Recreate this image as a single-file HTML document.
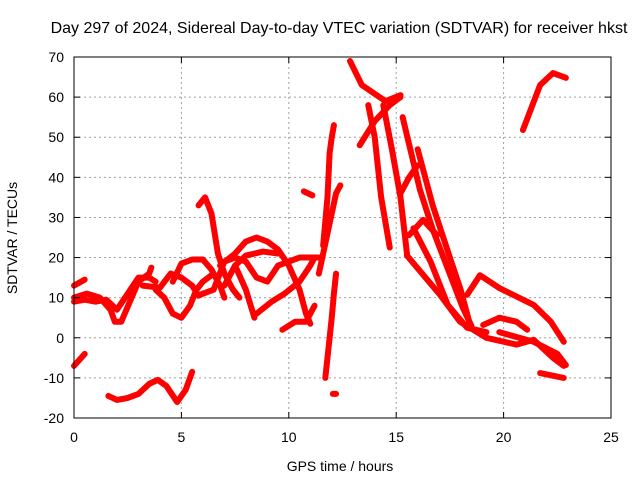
<!DOCTYPE html>
<html><head><meta charset="utf-8"><style>
body{margin:0;background:#fff}
svg text{font-family:"Liberation Sans",sans-serif;font-size:14px;fill:#000}
</style></head><body>
<svg id="chart" width="640" height="480">
<text x="339" y="33" text-anchor="middle" style="font-size:16px">Day 297 of 2024, Sidereal Day-to-day VTEC variation (SDTVAR) for receiver hkst</text>
<text x="340" y="471" text-anchor="middle">GPS time / hours</text>
<text transform="translate(17,238) rotate(-90)" text-anchor="middle">SDTVAR / TECUs</text>
<g id="grid"></g><g id="series"></g><g id="axes"></g>
</svg>
<script>
const xTicks=[0,5,10,15,20,25];
const yTicks=[-20,-10,0,10,20,30,40,50,60,70];
const s1=[[0,-7],[0.5,-4]];
const s2=[[0,13],[0.5,14.5]];
const s3=[[0,10],[0.6,11],[1.2,10],[1.7,7],[1.9,4],[2.2,4],[2.6,9],[3,14],[3.5,16],[3.6,17.5]];
const s4=[[0,9],[0.5,9.5],[1,9],[1.5,9.5],[2,7],[2.5,11],[3,15],[3.5,15],[3.8,14]];
const s5=[[1.6,-14.5],[2,-15.5],[2.5,-15],[3,-14],[3.5,-11.5],[3.9,-10.5],[4.3,-12],[4.8,-16],[5.2,-13],[5.5,-8.5]];
const s6=[[3.2,13],[4,12.5],[4.5,16],[5,15],[5.5,13],[5.8,10.5],[6,11]];
const s7=[[3.8,12],[4.2,10],[4.6,6],[5,5],[5.4,8],[5.7,12],[6,14],[6.5,16]];
const s8=[[4.6,14],[5,18.5],[5.5,19.5],[6,19.5],[6.4,17],[6.8,13],[7,10]];
const s9=[[5.8,33],[6.1,35],[6.4,31],[6.7,21],[7,16],[7.4,12],[7.7,10]];
const s10=[[6,11],[6.5,12],[7,19],[7.5,20],[8,19],[8.5,15],[9,14],[9.5,18],[10,19],[10.5,20],[11,20],[11.4,20]];
const s11=[[6.8,18],[7.5,21],[8,24],[8.5,25],[9,24],[9.5,22],[10,18],[10.5,12],[10.8,6],[11,3.5]];
const s12=[[7.5,18],[8,12],[8.4,5]];
const s13=[[8.5,6],[9.2,9],[9.8,11],[10.5,14],[11,18],[11.2,20]];
const s14=[[9.7,2],[10.3,4],[10.8,4],[11.2,8]];
const s15=[[7,13],[7.5,18],[8,20.5],[8.8,21.5],[9.5,21]];
const s16=[[11.4,16],[11.8,26],[12.2,36],[12.4,38]];
const s17=[[11.6,23],[11.8,35],[11.9,46],[12.0,50],[12.1,53]];
const s18=[[11.7,-10],[12,5],[12.1,11],[12.2,16]];
const s19=[[12.05,-14],[12.2,-14]];
const s20=[[10.7,36.5],[11.1,35.5]];
const s21=[[12.85,69],[13.4,63],[14.5,59],[15.2,60.5]];
const s22=[[13.7,58],[14.0,50],[14.3,35],[14.7,22.5]];
const s23=[[13.3,48],[14,54],[14.7,58],[15.2,60]];
const s24=[[14.4,58],[14.8,47],[15.2,35],[15.5,21]];
const s25=[[15.3,55],[16.1,37],[16.7,27],[18.1,7.5],[18.5,3]];
const s26=[[16,47],[16.7,33],[17.5,20],[18,12],[18.4,4]];
const s27=[[15.2,36],[15.6,40],[16,43]];
const s28=[[15.6,25.6],[16.25,29.4],[16.9,25.6]];
const s29=[[15.5,20.5],[17.04,10.7],[17.97,4],[19.2,0],[20.6,-1.7],[21.4,-0.5],[22.3,-5],[22.8,-7]];
const s30=[[15.8,27.3],[16.6,19],[17.4,8.2],[18.3,2.5],[19.2,1.4]];
const s31=[[18.3,10.7],[18.9,15.6],[19.8,12.4],[21.4,8.2],[22.2,4],[22.8,-1]];
const s32=[[19.05,3.2],[19.8,5],[20.6,4],[21.1,2]];
const s33=[[19.8,1.4],[21.4,-1],[22.5,-4],[22.9,-6.8]];
const s34=[[21.7,-8.8],[22.8,-10]];
const s35=[[20.9,51.8],[21.7,63],[22.3,66],[22.9,64.8]];
const allSeries=[s1,s2,s3,s4,s5,s6,s7,s8,s9,s10,s11,s12,s13,s14,s15,s16,s17,s18,s19,s20,s21,s22,s23,s24,s25,s26,s27,s28,s29,s30,s31,s32,s33,s34,s35];
const X0=74,X1=611,Y0=418,Y1=57;
const xs=v=>X0+(v-0)/25*(X1-X0);
const ys=v=>Y0-(v+20)/90*(Y0-Y1);
const NS="http://www.w3.org/2000/svg";
const grid=document.getElementById('grid'),axes=document.getElementById('axes'),ser=document.getElementById('series');
function mk(tag,at,parent){const e=document.createElementNS(NS,tag);for(const k in at)e.setAttribute(k,at[k]);parent.appendChild(e);return e;}
xTicks.forEach(t=>{
 const x=xs(t);
 if(t>0&&t<25){const g=mk('line',{x1:x,x2:x,y1:Y1,y2:Y0,stroke:'#a0a0a0','stroke-dasharray':'2,3'},grid);
 
 }
 mk('line',{x1:x,x2:x,y1:Y0,y2:Y0-6,stroke:'#000'},axes);
 mk('line',{x1:x,x2:x,y1:Y1,y2:Y1+6,stroke:'#000'},axes);
 const tx=mk('text',{x:x,y:Y0+24,'text-anchor':'middle'},axes);tx.textContent=t;
 
 
});
yTicks.forEach(t=>{
 const y=ys(t);
 if(t>-20&&t<70){const g=mk('line',{x1:X0,x2:X1,y1:y,y2:y,stroke:'#a0a0a0','stroke-dasharray':'2,3'},grid);
 
 }
 mk('line',{x1:X0,x2:X0+6,y1:y,y2:y,stroke:'#000'},axes);
 mk('line',{x1:X1,x2:X1-6,y1:y,y2:y,stroke:'#000'},axes);
 const tx=mk('text',{x:X0-10,y:y+5,'text-anchor':'end'},axes);tx.textContent=t;
 
 
});
const fr=mk('rect',{x:X0,y:Y1,width:X1-X0,height:Y0-Y1,fill:'none',stroke:'#000'},axes);


allSeries.forEach((s,i)=>{
 const p=mk('polyline',{points:s.map(d=>xs(d[0])+','+ys(d[1])).join(' '),fill:'none',stroke:'#ff0000','stroke-width':6,'stroke-linecap':'round','stroke-linejoin':'round'},ser);
 
 
});
</script>
</body></html>
